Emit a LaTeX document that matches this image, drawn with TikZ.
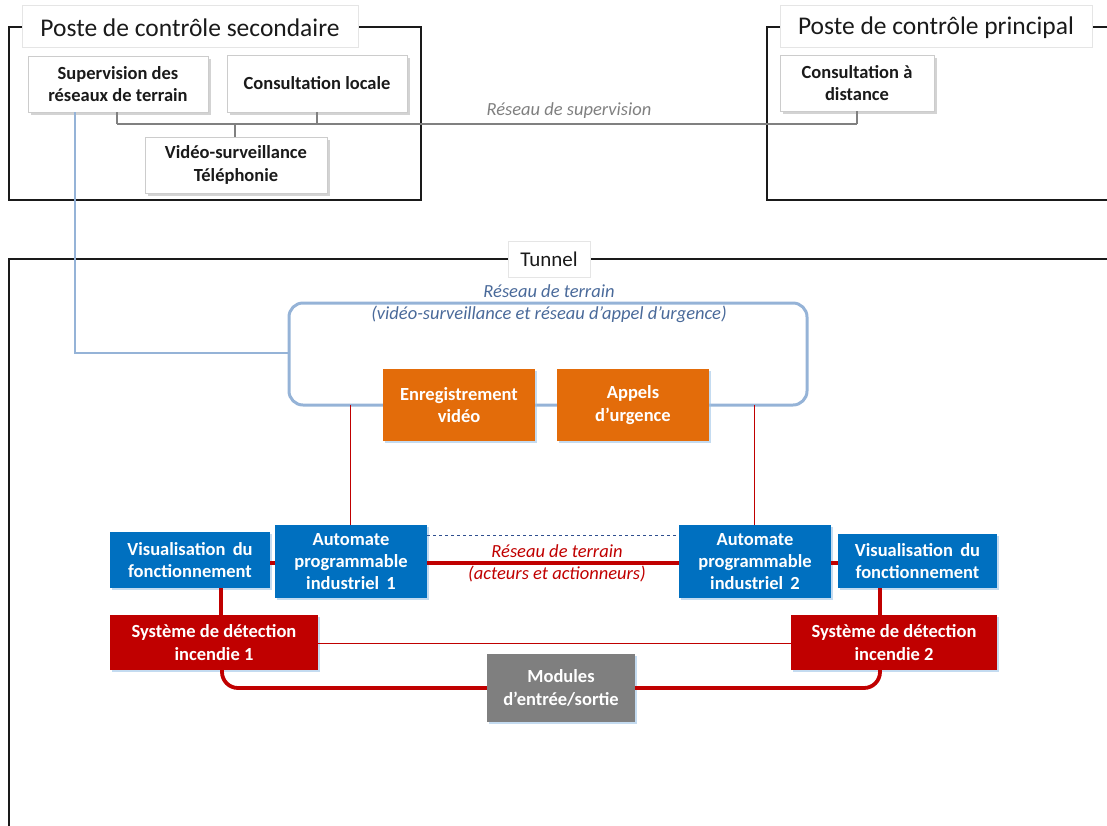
\documentclass[tikz,border=0pt]{standalone}
\usepackage{fontspec}
\setmainfont{Carlito}
\usetikzlibrary{shadows}
\definecolor{frameblk}{HTML}{1A1A1A}
\definecolor{netgray}{HTML}{808080}
\definecolor{netblue}{HTML}{95B3D7}
\definecolor{labblue}{HTML}{4A6A9A}
\definecolor{plcblue}{HTML}{0070C0}
\definecolor{firered}{HTML}{C00000}
\definecolor{orangebox}{HTML}{E36C0A}
\definecolor{iogray}{HTML}{7F7F7F}
\definecolor{dashblue}{HTML}{2F4F8F}
\definecolor{glow}{HTML}{9DC3E6}
\begin{document}
\begin{tikzpicture}[x=1pt,y=-1pt,
  boxtxt/.style={font=\bfseries\fontsize{18.5}{22.5}\selectfont, align=center, inner sep=0pt},
  whitebox/.style={boxtxt, draw=gray!40, fill=white, text=frameblk,
    drop shadow={opacity=0.35, shadow xshift=2.5pt, shadow yshift=-2.5pt}},
  colbox/.style={boxtxt, fill=#1, text=white,
    drop shadow={fill=glow, opacity=0.6, shadow xshift=2pt, shadow yshift=-2pt}},
  frametitle/.style={draw=gray!20, fill=white, inner sep=0pt, text=frameblk},
  frame/.style={draw=frameblk, line width=1.2pt},
  supline/.style={draw=netgray, line width=1.4pt},
  thinred/.style={draw=firered, line width=1pt},
  thickred/.style={draw=firered, line width=3.8pt},
  netlabel/.style={font=\itshape\fontsize{18.5}{22}\selectfont, align=center, inner sep=0pt}
]
\useasboundingbox (0,0) rectangle (1107,825);
\clip (0,0) rectangle (1107,825);

% control room frames
\draw[frame] (9,27) rectangle (421,200);
\node[frametitle, minimum width=336, minimum height=42] (tsec) at (190,26) {};
\node[font=\fontsize{25.5}{30}\selectfont, text=frameblk, inner sep=0pt] at (190,28) {Poste de contrôle secondaire};
\draw[frame] (1112,27) -- (767,27) -- (767,200) -- (1112,200);
\node[frametitle, minimum width=312, minimum height=42] (tpri) at (936,26) {};
\node[font=\fontsize{25.5}{30}\selectfont, text=frameblk, inner sep=0pt] at (936,28) {Poste de contrôle principal};

% tunnel frame
\draw[frame] (1112,259) -- (9,259) -- (9,830);
\node[frametitle, minimum width=82, minimum height=36, font=\fontsize{21}{25}\selectfont] (ttun) at (549,259) {Tunnel};

% supervision network
\coordinate (busL) at (117,124);
\coordinate (busR) at (857,124);
\draw[supline] (busL) -- (busR);

\node[whitebox, minimum width=180, minimum height=56] (sup) at (118,84) {Supervision des\\réseaux de terrain};
\node[whitebox, minimum width=180, minimum height=57] (loc) at (317,83.5) {Consultation locale};
\node[whitebox, minimum width=182, minimum height=56] (vid) at (236,165) {Vidéo-surveillance\\Téléphonie};
\node[whitebox, minimum width=154, minimum height=56] (dist) at (857,83) {Consultation à\\distance};

\draw[supline] (sup.south -| busL) -- (busL);
\draw[supline] (loc.south) -- (loc.south |- busL);
\draw[supline] (vid.north -| 235,0) -- (235,124);
\draw[supline] (dist.south) -- (busR);
\node[netlabel, text=netgray] (lsup) at (569,111) {Réseau de supervision};

% field network (video and emergency calls)
\draw[netblue, line width=3pt, rounded corners=14pt] (289,303) rectangle (807,405);
\coordinate (fnW) at (289,353);
\draw[netblue, line width=1.3pt] (sup.south -| 75,0) -- (75,353) -- (fnW);
\node[netlabel, text=labblue] (lfn) at (549,304) {Réseau de terrain\\(vidéo-surveillance et réseau d’appel d’urgence)};

\node[colbox=orangebox, minimum width=152, minimum height=72] (rec) at (459,405) {Enregistrement\\vidéo};
\node[colbox=orangebox, minimum width=152, minimum height=72] (call) at (633,405) {Appels\\d’urgence};

% controllers and field devices
\node[colbox=plcblue, minimum width=152, minimum height=73, font=\bfseries\fontsize{18.5}{22}\selectfont] (plcA) at (351,561.5) {Automate\\programmable\\industriel\, 1};
\node[colbox=plcblue, minimum width=152, minimum height=73, font=\bfseries\fontsize{18.5}{22}\selectfont] (plcB) at (755,561.5) {Automate\\programmable\\industriel\, 2};
\node[colbox=plcblue, minimum width=160, minimum height=56] (visA) at (190,560) {Visualisation\, du\\fonctionnement};
\node[colbox=plcblue, minimum width=159, minimum height=54] (visB) at (917.5,561) {Visualisation\, du\\fonctionnement};
\node[colbox=firered, minimum width=208, minimum height=55] (detA) at (214,642.5) {Système de détection\\incendie 1};
\node[colbox=firered, minimum width=206, minimum height=55] (detB) at (894,642.5) {Système de détection\\incendie 2};
\node[colbox=iogray, minimum width=148, minimum height=68] (io) at (561,688) {Modules\\d’entrée/sortie};

% links from the field network down to the controllers
\coordinate (tapA) at (350,405);
\coordinate (tapB) at (754,405);
\draw[thinred] (tapA) -- (tapA |- plcA.north);
\draw[thinred] (tapB) -- (tapB |- plcB.north);

% controller field bus
\draw[dashblue, line width=1pt, dashed] (plcA.north east |- 0,535) -- (plcB.north west |- 0,535);
\draw[thickred] (plcA.east |- 0,563) -- (plcB.west |- 0,563);
\node[netlabel, text=firered] (lact) at (557,563) {Réseau de terrain\\(acteurs et actionneurs)};
\draw[thickred] (visA.east |- 0,563) -- (plcA.west |- 0,563);
\draw[thickred] (plcB.east |- 0,563) -- (visB.west |- 0,563);
\draw[thickred] (visA.south -| 221,0) -- (detA.north -| 221,0);
\draw[thickred] (visB.south -| 880,0) -- (detB.north -| 880,0);

% fire detection links
\draw[thinred] (detA.east |- 0,643) -- (detB.west |- 0,643);
\draw[thickred, rounded corners=16pt] (detA.south -| 222,0) -- (222,688) -- (io.west);
\draw[thickred, rounded corners=16pt] (io.east) -- (880,688) -- (detB.south -| 880,0);
\end{tikzpicture}
\end{document}
